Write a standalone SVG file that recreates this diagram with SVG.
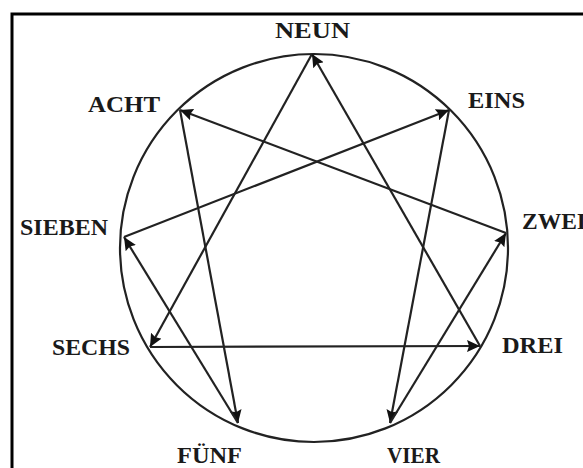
<svg xmlns="http://www.w3.org/2000/svg" width="583" height="468" viewBox="0 0 583 468">
<style>
.lbl{font-family:"Liberation Serif","Times New Roman",serif;font-weight:bold;font-size:23px;fill:#1a1a1a}
.ln{stroke:#222;stroke-width:2.2;fill:none}
</style>
<defs>
<marker id="ah" markerUnits="userSpaceOnUse" markerWidth="14" markerHeight="12" refX="13" refY="6" orient="auto">
<path d="M0,0 L13,6 L0,12 L2,6 z" fill="#111"/>
</marker>
</defs>
<rect width="583" height="468" fill="#fff"/>
<path d="M12,468 L12,14 L583,14" stroke="#000" stroke-width="3" fill="none"/>
<circle cx="314" cy="248" r="194" class="ln"/>
<g id="connectors">
<line class="ln" x1="312" y1="54" x2="150" y2="347" marker-end="url(#ah)"/>
<line class="ln" x1="150" y1="347" x2="480" y2="346" marker-end="url(#ah)"/>
<line class="ln" x1="480" y1="346" x2="312" y2="54" marker-end="url(#ah)"/>
<line class="ln" x1="449" y1="110" x2="390" y2="423" marker-end="url(#ah)"/>
<line class="ln" x1="390" y1="423" x2="506" y2="233" marker-end="url(#ah)"/>
<line class="ln" x1="506" y1="233" x2="180" y2="110" marker-end="url(#ah)"/>
<line class="ln" x1="180" y1="110" x2="238" y2="423" marker-end="url(#ah)"/>
<line class="ln" x1="238" y1="423" x2="124" y2="237" marker-end="url(#ah)"/>
<line class="ln" x1="124" y1="237" x2="449" y2="110" marker-end="url(#ah)"/>
</g>
<g id="neun"><text class="lbl" x="275" y="38" textLength="75" lengthAdjust="spacingAndGlyphs">NEUN</text></g>
<g id="acht"><text class="lbl" x="88" y="112" textLength="72" lengthAdjust="spacingAndGlyphs">ACHT</text></g>
<g id="eins"><text class="lbl" x="468" y="108" textLength="57" lengthAdjust="spacingAndGlyphs">EINS</text></g>
<g id="sieben"><text class="lbl" x="20" y="235" textLength="88" lengthAdjust="spacingAndGlyphs">SIEBEN</text></g>
<g id="zwei"><text class="lbl" x="522" y="229" textLength="64" lengthAdjust="spacingAndGlyphs">ZWEI</text></g>
<g id="sechs"><text class="lbl" x="52" y="355" textLength="78" lengthAdjust="spacingAndGlyphs">SECHS</text></g>
<g id="drei"><text class="lbl" x="502" y="353" textLength="61" lengthAdjust="spacingAndGlyphs">DREI</text></g>
<g id="fuenf"><text class="lbl" x="177" y="463" textLength="65" lengthAdjust="spacingAndGlyphs">FÜNF</text></g>
<g id="vier"><text class="lbl" x="387" y="463" textLength="53" lengthAdjust="spacingAndGlyphs">VIER</text></g>
</svg>
